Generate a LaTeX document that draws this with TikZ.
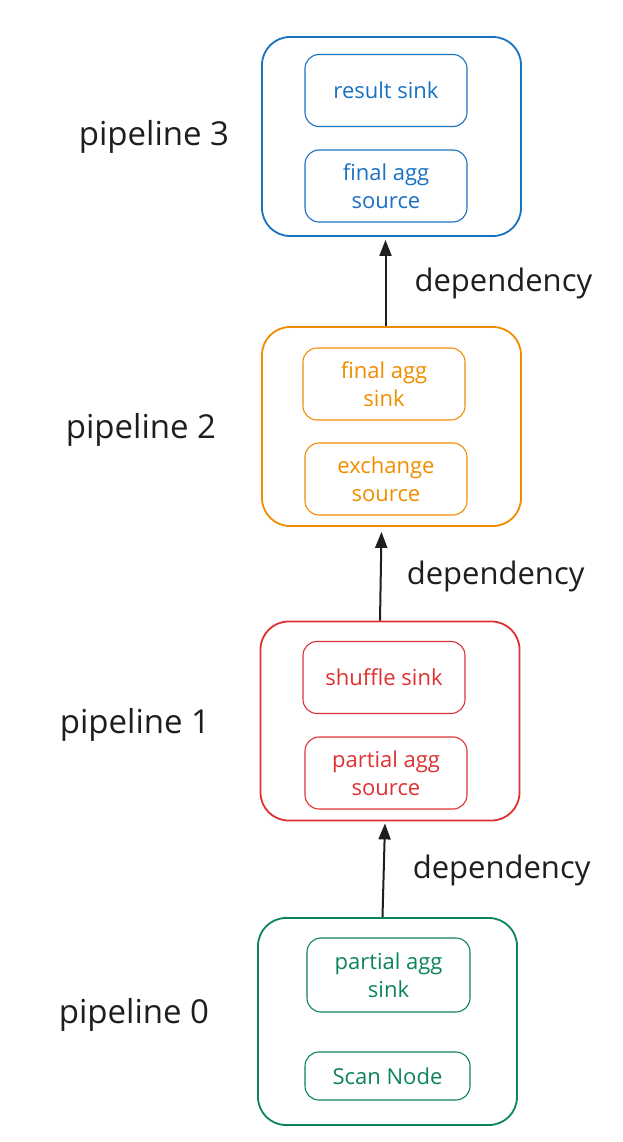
\documentclass[tikz,border=0pt]{standalone}
\usepackage{fontspec}
\setmainfont{Open Sans}
\usetikzlibrary{arrows.meta}
\definecolor{pblue}{HTML}{1971C2}
\definecolor{porange}{HTML}{F08C00}
\definecolor{pred}{HTML}{E03131}
\definecolor{pgreen}{HTML}{0C8457}
\definecolor{pink}{HTML}{1E1E1E}
\begin{document}
\begin{tikzpicture}[x=1pt, y=-1pt, >={Triangle[length=16pt,width=12pt]}, line width=1.8pt,
  pipe node/.style={rectangle,draw,rounded corners=28pt,minimum width=259pt,minimum height=199pt,inner sep=0pt},
  op node/.style={rectangle,draw,line width=1.1pt,rounded corners=14pt,minimum width=162pt,minimum height=72pt,inner sep=2pt,align=center,font=\fontsize{22}{28}\selectfont},
  pipe label/.style={text=pink,font=\fontsize{33}{38}\selectfont,inner sep=0pt}]%
\useasboundingbox (0,0) rectangle (622,1142);
\begin{scope}[every node/.style={pipe node}]
\node[draw=pblue] (p3) at (391.5,136.5) {};
\node[draw=porange] (p2) at (391.5,426.5) {};
\node[draw=pred] (p1) at (390,721) {};
\node[draw=pgreen,minimum height=207pt] (p0) at (387.5,1021.5) {};
\end{scope}
\begin{scope}[every node/.style={op node}]
\node[draw=pblue,text=pblue] (result) at (386,90.5) {result sink};
\node[draw=pblue,text=pblue] (finalsrc) at (386,186) {final agg\\source};
\node[draw=porange,text=porange] (finalsink) at (384,384) {final agg\\sink};
\node[draw=porange,text=porange] (exsrc) at (386,479) {exchange\\source};
\node[draw=pred,text=pred] (shuffle) at (384,677.5) {shuffle sink};
\node[draw=pred,text=pred] (partsrc) at (386,773) {partial agg\\source};
\node[draw=pgreen,text=pgreen,minimum width=163pt,minimum height=74pt] (partsink) at (388.5,975) {partial agg\\sink};
\node[draw=pgreen,text=pgreen,minimum width=165pt,minimum height=48pt] (scan) at (387.5,1076) {Scan Node};
\end{scope}
\begin{scope}[every node/.style={pipe label}]
\node (l3) at (154,137) {pipeline 3};
\node (l2) at (141,430) {pipeline 2};
\node (l1) at (135,725) {pipeline 1};
\node (l0) at (134,1015) {pipeline 0};
\end{scope}
\begin{scope}[every edge/.style={draw=pink,->,line width=2pt}, every node/.style={pipe label,right,font=\fontsize{31}{36}\selectfont}]
\draw ([xshift=-6pt]p2.north) edge node[xshift=28pt]{dependency} ([xshift=-6pt,yshift=-3pt]p3.south);
\draw ([xshift=-10pt]p1.north) edge node[xshift=25pt]{dependency} ([xshift=-10pt,yshift=-5pt]p2.south);
\draw ([xshift=-5pt]p0.north) edge node[xshift=28pt]{dependency} ([xshift=-5pt,yshift=-2pt]p1.south);
\end{scope}
\end{tikzpicture}
\end{document}
